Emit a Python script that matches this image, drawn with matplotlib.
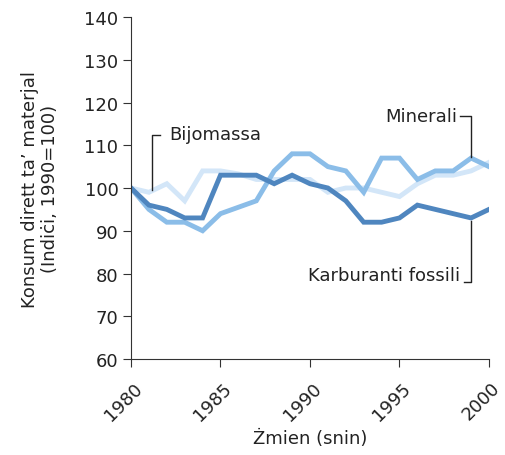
import matplotlib
matplotlib.use('Agg')
import matplotlib.pyplot as plt
import matplotlib.transforms as mtransforms

# data
years = list(range(1980, 2001))
karburanti = [100, 96, 95, 93, 93, 103, 103, 103, 101, 103, 101, 100, 97, 92, 92, 93, 96, 95, 94, 93, 95]
minerali = [100, 95, 92, 92, 90, 94, 95.5, 97, 104, 108, 108, 105, 104, 99, 107, 107, 102, 104, 104, 107, 105]
bijomassa = [100, 99, 101, 97, 104, 104, 103.3, 102, 102, 102, 102, 99, 100, 100, 99, 98, 101, 103, 103, 104, 106]

FS = 13
TXT = '#222222'

fig = plt.figure(figsize=(5.05, 4.56), dpi=100)
ax = fig.add_axes([0.2594, 0.2105, 0.7089, 0.75])

ax.plot(years, bijomassa, color='#d3e6f8', lw=3.5, solid_joinstyle='miter')
ax.plot(years, minerali, color='#8bbde8', lw=3.5, solid_joinstyle='miter')
ax.plot(years, karburanti, color='#4f86bf', lw=3.5, solid_joinstyle='miter')

ax.set_xlim(1980, 2000)
ax.set_ylim(60, 140)
ax.set_xticks([1980, 1985, 1990, 1995, 2000])
ax.set_yticks(range(60, 141, 10))
ax.tick_params(labelsize=FS, length=6, color='#333333', labelcolor=TXT, pad=3)
# shift rotated year labels a little right and down
offset = mtransforms.ScaledTranslation(2 / 100, -7 / 100, fig.dpi_scale_trans)
for lab in ax.get_xticklabels():
    lab.set_rotation(45)
    lab.set_ha('right')
    lab.set_va('top')
    lab.set_rotation_mode('anchor')
    lab.set_transform(lab.get_transform() + offset)
for s in ['top', 'right']:
    ax.spines[s].set_visible(False)
for s in ['left', 'bottom']:
    ax.spines[s].set_color('#333333')

ax.set_xlabel('Żmien (snin)', fontsize=FS, color=TXT)
ax.xaxis.set_label_coords(0.5, -0.205)
ax.set_ylabel('Konsum dirett ta\u2019 materjal\n(Indiċi, 1990=100)', fontsize=FS, color=TXT, labelpad=18)

# labels with bracket leaders
ax.plot([1981.15, 1981.15, 1981.6], [99.5, 112.5, 112.5], color=TXT, lw=1, clip_on=False)
ax.text(1982.15, 112.6, 'Bijomassa', fontsize=FS, va='center', ha='left', color=TXT)

ax.plot([1998.4, 1999, 1999], [116.8, 116.8, 107.3], color=TXT, lw=1, clip_on=False)
ax.text(1998.2, 116.8, 'Minerali', fontsize=FS, va='center', ha='right', color=TXT)

ax.plot([1999, 1999, 1998.6], [92.4, 78, 78], color=TXT, lw=1, clip_on=False)
ax.text(1998.4, 79.6, 'Karburanti fossili', fontsize=FS, va='center', ha='right', color=TXT)

fig.savefig('out.png', dpi=100)
